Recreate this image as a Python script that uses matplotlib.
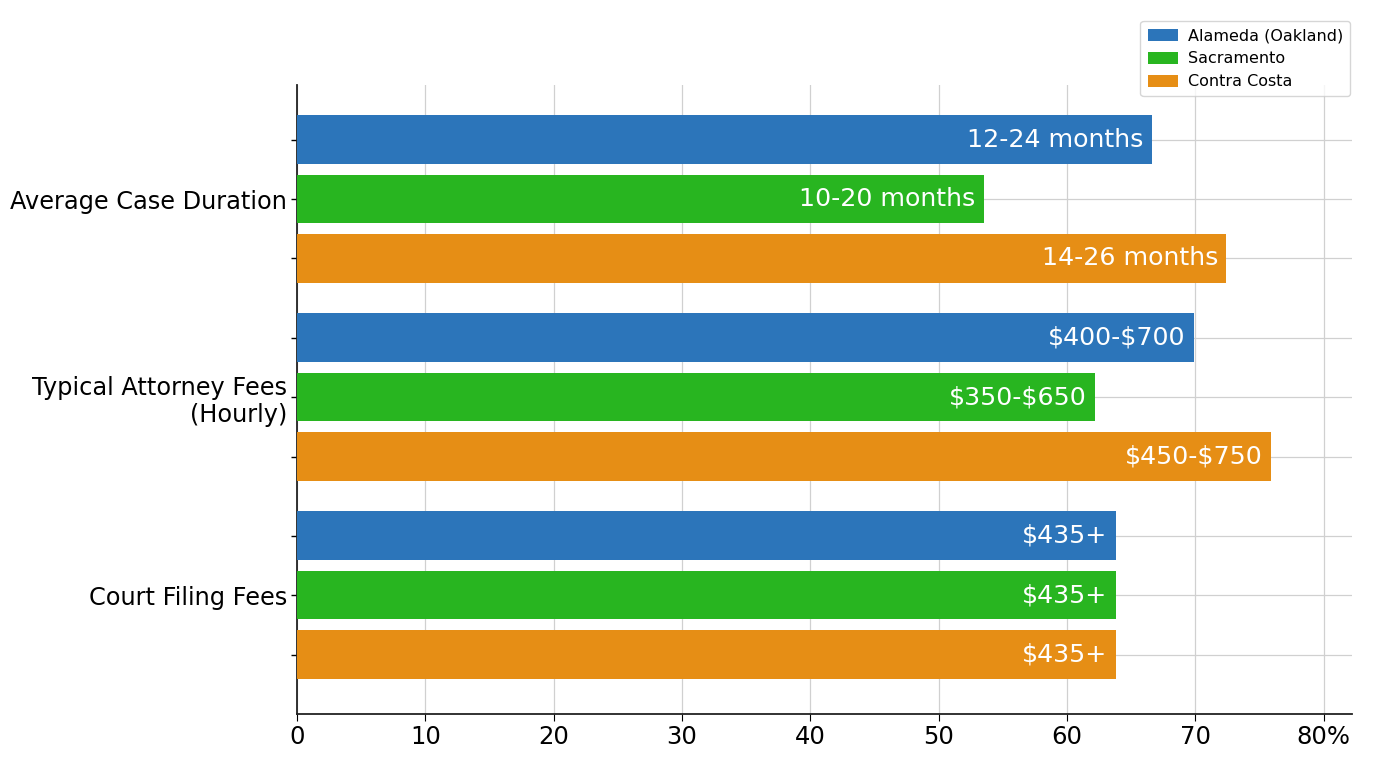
import numpy as np
import matplotlib.pyplot as plt
from matplotlib.ticker import FuncFormatter

categories = ['Average Case Duration', 'Typical Attorney Fees\n(Hourly)', 'Court Filing Fees']
series = ['Alameda (Oakland)', 'Sacramento', 'Contra Costa']
colors = ['#2c75ba', '#28b520', '#e68e15']

alameda = [66.6, 69.9, 63.8]
sacramento = [53.5, 62.2, 63.8]
contra_costa = [72.4, 75.9, 63.8]

alameda_txt = ['12-24 months', '\\$400-\\$700', '\\$435+']
sacramento_txt = ['10-20 months', '\\$350-\\$650', '\\$435+']
contra_txt = ['14-26 months', '\\$450-\\$750', '\\$435+']

values = [alameda, sacramento, contra_costa]
texts = [alameda_txt, sacramento_txt, contra_txt]
offsets = [-0.3, 0.0, 0.3]

fig = plt.figure(figsize=(13.76, 7.68), dpi=100)
ax = fig.add_axes([297 / 1376, 1 - 714 / 768, (1352 - 297) / 1376, (714 - 85) / 768])

y = np.arange(len(categories))
for vals, txt, off, col, name in zip(values, texts, offsets, colors, series):
    bars = ax.barh(y + off, vals, height=0.245, color=col, label=name, zorder=3)
    for b, t in zip(bars, txt):
        ax.text(b.get_width() - 0.65, b.get_y() + b.get_height() / 2, t,
                ha='right', va='center', color='white', fontsize=18.2, zorder=4)

# ticks at every bar centre, category name on the middle one
tick_pos = []
tick_lab = []
for i, c in enumerate(categories):
    for off in offsets:
        tick_pos.append(i + off)
        tick_lab.append(c if off == 0 else '')

ax.set_ylim(2.60, -0.576)
ax.set_xlim(0, 82.2)
ax.set_xticks(np.arange(0, 81, 10))
ax.xaxis.set_major_formatter(FuncFormatter(lambda v, p: '80%' if v == 80 else '%d' % v))
ax.set_yticks(tick_pos)
ax.set_yticklabels(tick_lab, fontsize=17.3)
ax.tick_params(axis='y', length=4, width=1, pad=3)
ax.tick_params(axis='x', labelsize=17.5, length=5, pad=3)

ax.grid(axis='both', color='#d0d0d0', linewidth=0.9, zorder=0)
ax.set_axisbelow(True)

for s in ['top', 'right']:
    ax.spines[s].set_visible(False)
for s in ['left', 'bottom']:
    ax.spines[s].set_linewidth(1.3)
    ax.spines[s].set_color('#222222')

ax.legend(loc='upper right', bbox_to_anchor=(1350 / 1376, 1 - 21 / 768),
          bbox_transform=fig.transFigure, borderaxespad=0, fontsize=11.5,
          frameon=True, handlelength=1.9, handleheight=0.8, labelspacing=0.5,
          borderpad=0.45, handletextpad=0.6)

fig.savefig('out.png', dpi=100)
